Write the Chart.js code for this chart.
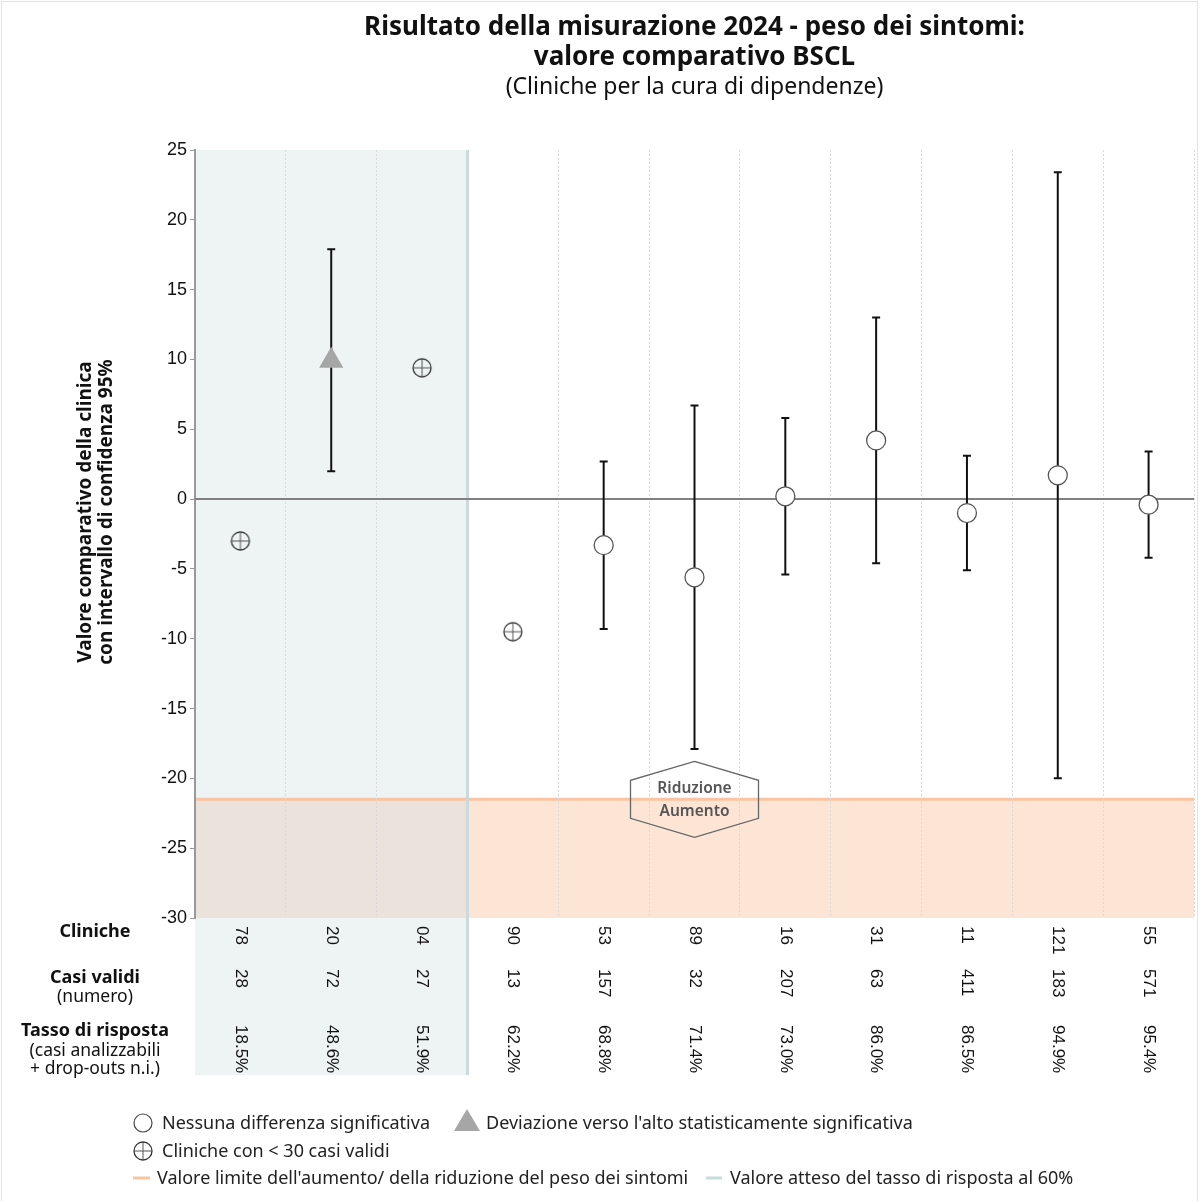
<!DOCTYPE html>
<html lang="it">
<head>
<meta charset="utf-8">
<title>Risultato della misurazione 2024 - BSCL</title>
<script src="https://cdn.jsdelivr.net/npm/chart.js@4.4.1/dist/chart.umd.min.js"></script>
<style>
  html, body { margin: 0; padding: 0; background: #fff; }
  canvas { display: block; }
</style>
</head>
<body>
<canvas id="bscl" width="1200" height="1201"></canvas>
<script>
// dati
const clinics = ["78", "20", "04", "90", "53", "89", "16", "31", "11", "121", "55"];
const casiValidi = [28, 72, 27, 13, 157, 32, 207, 63, 411, 183, 571];
const tassoRisposta = ["18.5%", "48.6%", "51.9%", "62.2%", "68.8%", "71.4%", "73.0%", "86.0%", "86.5%", "94.9%", "95.4%"];
const valori = [-3.0, 9.9, 9.4, -9.5, -3.3, -5.6, 0.2, 4.2, -1.0, 1.7, -0.4];
const limInf = [null, 2.0, null, null, -9.3, -17.9, -5.4, -4.6, -5.1, -20.0, -4.2];
const limSup = [null, 17.9, null, null, 2.7, 6.7, 5.8, 13.0, 3.1, 23.4, 3.4];
// "nd" = nessuna differenza, "up" = deviazione verso l'alto, "few" = < 30 casi
const tipo = ["few", "up", "few", "few", "nd", "nd", "nd", "nd", "nd", "nd", "nd"];
const yTicks = [25, 20, 15, 10, 5, 0, -5, -10, -15, -20, -25, -30];
const soglia = -21.5;       // valore limite aumento/riduzione
const nSottoSoglia = 3;     // cliniche sotto il 60% di risposta

const SANS = "'Noto Sans', 'Open Sans', sans-serif";
const ARIAL = "'Liberation Sans', Arial, sans-serif";

// simbolo cerchio con croce
function crossCircle(r) {
  const c = document.createElement("canvas");
  const s = Math.ceil(r * 2 + 4);
  c.width = s; c.height = s;
  const g = c.getContext("2d");
  const m = s / 2;
  g.strokeStyle = "#333";
  g.lineWidth = 1.3;
  g.beginPath(); g.arc(m, m, r, 0, Math.PI * 2); g.stroke();
  g.strokeStyle = "#555";
  g.lineWidth = 1;
  g.beginPath();
  g.moveTo(m - r, m); g.lineTo(m + r, m);
  g.moveTo(m, m - r); g.lineTo(m, m + r);
  g.stroke();
  return c;
}
const crossImg = crossCircle(9);

const serie = (k) => valori.map((v, i) => (tipo[i] === k ? v : null));

const sfondo = {
  id: "sfondo",
  beforeDraw(chart) {
    const { ctx, chartArea: a, scales: { x, y } } = chart;
    const xSplit = (x.getPixelForTick(nSottoSoglia - 1) + x.getPixelForTick(nSottoSoglia)) / 2;
    const ySoglia = y.getPixelForValue(soglia);
    const tableBottom = 1075;
    ctx.save();
    // cornice
    ctx.strokeStyle = "#e3e3e3";
    ctx.lineWidth = 1;
    ctx.strokeRect(1.5, 1.5, 1196, 1200);
    // zona tasso di risposta < 60%
    ctx.fillStyle = "#eef4f4";
    ctx.fillRect(a.left, a.top, xSplit - a.left, tableBottom - a.top);
    // zona aumento
    ctx.fillStyle = "#fde5d6";
    ctx.fillRect(xSplit, ySoglia, a.right - xSplit, a.bottom - ySoglia);
    ctx.fillStyle = "#ece2dc";
    ctx.fillRect(a.left, ySoglia, xSplit - a.left, a.bottom - ySoglia);
    ctx.strokeStyle = "#f9c4a2";
    ctx.lineWidth = 3;
    ctx.beginPath(); ctx.moveTo(a.left, ySoglia); ctx.lineTo(a.right, ySoglia); ctx.stroke();
    // linea 60%
    ctx.strokeStyle = "#c9d9dc";
    ctx.lineWidth = 3;
    ctx.beginPath(); ctx.moveTo(xSplit, a.top); ctx.lineTo(xSplit, tableBottom); ctx.stroke();
    ctx.restore();
  },
  beforeDatasetsDraw(chart) {
    const { ctx, chartArea: a, scales: { x, y } } = chart;
    ctx.save();
    // linea dello zero
    const y0 = y.getPixelForValue(0);
    ctx.strokeStyle = "#808080";
    ctx.lineWidth = 2;
    ctx.beginPath(); ctx.moveTo(a.left, y0); ctx.lineTo(a.right, y0); ctx.stroke();
    // intervalli di confidenza
    ctx.strokeStyle = "#111";
    ctx.lineWidth = 2;
    limInf.forEach((lo, i) => {
      if (lo == null) return;
      const px = x.getPixelForTick(i);
      const p1 = y.getPixelForValue(lo), p2 = y.getPixelForValue(limSup[i]);
      ctx.beginPath();
      ctx.moveTo(px, p1); ctx.lineTo(px, p2);
      ctx.moveTo(px - 4, p1); ctx.lineTo(px + 4, p1);
      ctx.moveTo(px - 4, p2); ctx.lineTo(px + 4, p2);
      ctx.stroke();
    });
    ctx.restore();
  },
  afterDraw(chart) {
    const { ctx, chartArea: a, scales: { x, y } } = chart;
    const cx = (a.left + a.right) / 2;
    ctx.save();
    ctx.fillStyle = "#111";
    ctx.textAlign = "center";
    ctx.textBaseline = "middle";
    // titolo
    ctx.font = "bold 26px " + SANS;
    ctx.fillText("Risultato della misurazione 2024 - peso dei sintomi:", cx, 28);
    ctx.fillText("valore comparativo BSCL", cx, 58);
    ctx.font = "23px " + SANS;
    ctx.fillText("(Cliniche per la cura di dipendenze)", cx, 87);

    // titolo asse y
    ctx.save();
    ctx.translate(86, 512);
    ctx.rotate(-Math.PI / 2);
    ctx.font = "bold 19px " + SANS;
    ctx.fillText("Valore comparativo della clinica", 0, 0);
    ctx.fillText("con intervallo di confidenza 95%", 0, 21);
    ctx.restore();

    // esagono Riduzione / Aumento
    const hx = x.getPixelForTick(5), hy = y.getPixelForValue(soglia);
    ctx.strokeStyle = "#666";
    ctx.lineWidth = 1.3;
    ctx.beginPath();
    ctx.moveTo(hx, hy - 38);
    ctx.lineTo(hx + 64, hy - 19);
    ctx.lineTo(hx + 64, hy + 19);
    ctx.lineTo(hx, hy + 38);
    ctx.lineTo(hx - 64, hy + 19);
    ctx.lineTo(hx - 64, hy - 19);
    ctx.closePath();
    ctx.stroke();
    ctx.fillStyle = "#555";
    ctx.font = "600 15.5px " + SANS;
    ctx.fillText("Riduzione", hx, hy - 11);
    ctx.fillText("Aumento", hx, hy + 12);

    // intestazioni tabella
    ctx.fillStyle = "#111";
    ctx.font = "bold 18px " + SANS;
    ctx.fillText("Cliniche", 95, 932);
    ctx.fillText("Casi validi", 95, 978);
    ctx.fillText("Tasso di risposta", 95, 1031);
    ctx.font = "17.5px " + SANS;
    ctx.fillText("(numero)", 95, 997);
    ctx.fillText("(casi analizzabili", 95, 1051);
    ctx.fillText("+ drop-outs n.i.)", 95, 1069);

    // valori tabella (ruotati)
    ctx.font = "17px " + ARIAL;
    ctx.textAlign = "left";
    ctx.fillStyle = "#111";
    const righe = [[clinics, 926], [casiValidi, 969], [tassoRisposta, 1025]];
    clinics.forEach((c, i) => {
      const px = x.getPixelForTick(i);
      righe.forEach(([arr, top]) => {
        ctx.save();
        ctx.translate(px, top);
        ctx.rotate(Math.PI / 2);
        ctx.fillText(String(arr[i]), 0, 0);
        ctx.restore();
      });
    });

    // legenda
    ctx.font = "18px " + SANS;
    ctx.fillStyle = "#222";
    ctx.textAlign = "left";
    ctx.beginPath();
    ctx.arc(143, 1123, 9, 0, Math.PI * 2);
    ctx.fillStyle = "#fff"; ctx.fill();
    ctx.strokeStyle = "#444"; ctx.lineWidth = 1.2; ctx.stroke();
    ctx.fillStyle = "#222";
    ctx.fillText("Nessuna differenza significativa", 162, 1124);
    ctx.fillStyle = "#a6a6a6";
    ctx.beginPath();
    ctx.moveTo(467, 1109); ctx.lineTo(480, 1131); ctx.lineTo(454, 1131); ctx.closePath();
    ctx.fill();
    ctx.fillStyle = "#222";
    ctx.fillText("Deviazione verso l'alto statisticamente significativa", 486, 1124);
    ctx.drawImage(crossImg, 143 - crossImg.width / 2, 1151 - crossImg.height / 2);
    ctx.fillText("Cliniche con < 30 casi validi", 162, 1152);
    ctx.lineWidth = 3;
    ctx.strokeStyle = "#f9c4a2";
    ctx.beginPath(); ctx.moveTo(133, 1178); ctx.lineTo(150, 1178); ctx.stroke();
    ctx.fillText("Valore limite dell'aumento/ della riduzione del peso dei sintomi", 157, 1179);
    ctx.strokeStyle = "#c9d9dc";
    ctx.beginPath(); ctx.moveTo(706, 1178); ctx.lineTo(722, 1178); ctx.stroke();
    ctx.fillText("Valore atteso del tasso di risposta al 60%", 730, 1179);
    ctx.restore();
  }
};

new Chart(document.getElementById("bscl"), {
  type: "line",
  data: {
    labels: clinics,
    datasets: [
      {
        label: "Nessuna differenza significativa",
        data: serie("nd"),
        showLine: false,
        pointStyle: "circle",
        pointRadius: 9.5,
        pointBackgroundColor: "#fff",
        pointBorderColor: "#555",
        pointBorderWidth: 1.3
      },
      {
        label: "Deviazione verso l'alto statisticamente significativa",
        data: serie("up"),
        showLine: false,
        pointStyle: "triangle",
        pointRadius: 14,
        pointBackgroundColor: "#a6a6a6",
        pointBorderWidth: 0
      },
      {
        label: "Cliniche con < 30 casi validi",
        data: serie("few"),
        showLine: false,
        pointStyle: crossImg,
        pointRadius: 9
      }
    ]
  },
  options: {
    responsive: false,
    devicePixelRatio: 1,
    animation: false,
    events: [],
    layout: { autoPadding: false, padding: { top: 150, right: 6, left: 0, bottom: 0 } },
    plugins: { legend: { display: false }, tooltip: { enabled: false }, title: { display: false } },
    scales: {
      x: {
        type: "category",
        offset: true,
        ticks: { display: false },
        grid: { offset: true, color: "#d9d9d9", lineWidth: 1, drawTicks: false },
        border: { display: false, dash: [2, 2] },
        afterFit(s) { s.height = 283; }
      },
      y: {
        min: -30,
        max: 25,
        afterBuildTicks(s) { s.ticks = yTicks.map((v) => ({ value: v })); },
        ticks: { color: "#111", font: { family: ARIAL, size: 18 }, padding: 3 },
        grid: { drawOnChartArea: false, color: "#999", tickLength: 5 },
        border: { color: "#999", width: 2 },
        afterFit(s) { s.width = 195; }
      }
    }
  },
  plugins: [sfondo]
});
</script>
</body>
</html>
